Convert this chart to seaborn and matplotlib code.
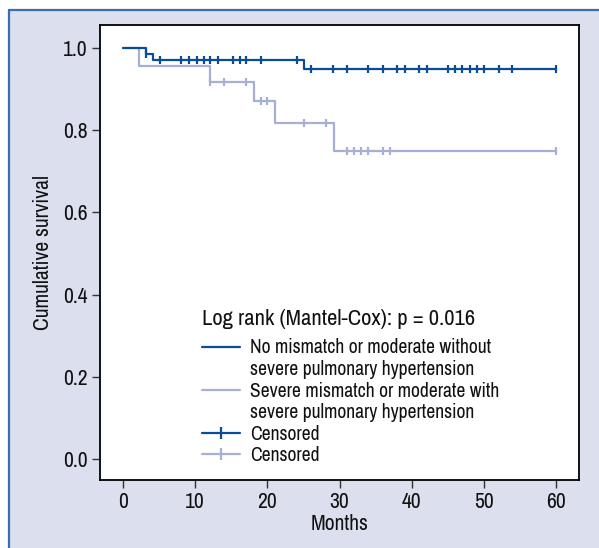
import numpy as np
import pandas as pd
import seaborn as sns
import matplotlib.pyplot as plt
from matplotlib.lines import Line2D

# Kaplan-Meier steps
group_a = ["No mismatch or moderate without", "severe pulmonary hypertension"]
group_b = ["Severe mismatch or moderate with", "severe pulmonary hypertension"]

a_event_months = [3.2, 4.2, 25.1]
a_survival = [0.985, 0.971, 0.950]
a_censored = [3.2, 5.1, 8.0, 9.2, 10.2, 11.2, 12.0, 13.1, 15.3, 16.2, 17.1, 19.1,
              24.1, 26.1, 29.1, 31.1, 34.0, 36.0, 38.0, 39.1, 41.0, 42.1, 45.0,
              46.0, 47.0, 48.1, 49.1, 50.0, 52.1, 53.9, 60.0]

b_event_months = [2.2, 12.0, 18.1, 21.0, 29.2]
b_survival = [0.957, 0.918, 0.871, 0.817, 0.749]
b_censored = [12.0, 14.0, 17.1, 19.1, 20.0, 25.1, 28.1, 31.1, 32.0, 33.0, 34.0,
              36.0, 37.0, 60.0]

follow_up = 60
dark_blue = "#0b4c96"
light_blue = "#a6b0d6"
panel_bg = "#dcdfed"

sns.set_style("ticks")
plt.rcParams["font.family"] = ["Archivo Narrow", "DejaVu Sans"]
plt.rcParams["text.color"] = "#111111"
plt.rcParams["axes.labelcolor"] = "#111111"
plt.rcParams["xtick.labelcolor"] = "#111111"
plt.rcParams["ytick.labelcolor"] = "#111111"


def km_frame(events, surv):
    t = [0] + list(events) + [follow_up]
    s = [1.0] + list(surv) + [surv[-1]]
    return pd.DataFrame({"Months": t, "Survival": s})


def censor_frame(events, surv, censored):
    t = np.array(censored)
    idx = np.searchsorted(np.array(events), t, side="right")
    levels = np.concatenate([[1.0], surv])[idx]
    return pd.DataFrame({"Months": t, "Survival": levels})


fig = plt.figure(figsize=(5.99, 5.48), dpi=100, facecolor="white")
# lavender panel with blue border on left and top
bx, by = 8.5 / 599, 1 - 9.5 / 548
fig.add_artist(plt.Rectangle((bx, 0), 1, by, transform=fig.transFigure,
                             facecolor=panel_bg, edgecolor="none", zorder=-3))
fig.add_artist(Line2D([bx, bx], [0, by], transform=fig.transFigure,
                      color="#3b6db4", lw=1.6, zorder=-2))
fig.add_artist(Line2D([bx, 1], [by, by], transform=fig.transFigure,
                      color="#3b6db4", lw=1.6, zorder=-2))

ax = fig.add_axes([100 / 599, 1 - 480 / 548, 479 / 599, 455 / 548])
ax.set_facecolor("white")

for events, surv, cens, col in [(b_event_months, b_survival, b_censored, light_blue),
                                (a_event_months, a_survival, a_censored, dark_blue)]:
    sns.lineplot(data=km_frame(events, surv), x="Months", y="Survival", ax=ax,
                 color=col, lw=1.6, drawstyle="steps-post", estimator=None)
    cf = censor_frame(events, surv, cens)
    ax.plot(cf["Months"], cf["Survival"], ls="none", marker="|", ms=6, mew=1.6, color=col)

ax.set_xlim(-3.19, 63.19)
ax.set_ylim(-0.051, 1.056)
ax.set_xticks(range(0, 61, 10))
ax.set_yticks([0.0, 0.2, 0.4, 0.6, 0.8, 1.0])
ax.set_yticklabels(["0.0", "0.2", "0.4", "0.6", "0.8", "1.0"])
ax.tick_params(direction="out", length=6, width=1, labelsize=15.5, color="#333333", pad=3)
ax.set_xlabel("Months", fontsize=15.5, labelpad=1)
ax.set_ylabel("Cumulative survival", fontsize=15.5, labelpad=7)
for sp in ax.spines.values():
    sp.set_visible(True)
    sp.set_linewidth(1.3)
    sp.set_color("black")

# one legend row per text line so the handle sits on the first line
blank = Line2D([], [], color="none")
handles = [Line2D([], [], color=dark_blue, lw=1.6), blank,
           Line2D([], [], color=light_blue, lw=1.6), blank,
           Line2D([], [], color=dark_blue, lw=1.6, marker="|", ms=9, mew=1.6),
           Line2D([], [], color=light_blue, lw=1.6, marker="|", ms=9, mew=1.6)]
labels = group_a + group_b + ["Censored", "Censored"]
leg = ax.legend(handles, labels, title="Log rank (Mantel-Cox): p = 0.016",
                loc="upper left", bbox_to_anchor=(0.192, 0.398), frameon=False,
                fontsize=14.1, title_fontsize=16.3, alignment="left",
                handlelength=1.95, handletextpad=0.5, labelspacing=0.13, borderpad=0)
leg._legend_box.sep = 7

fig.savefig("out.png", dpi=100, facecolor=fig.get_facecolor())
